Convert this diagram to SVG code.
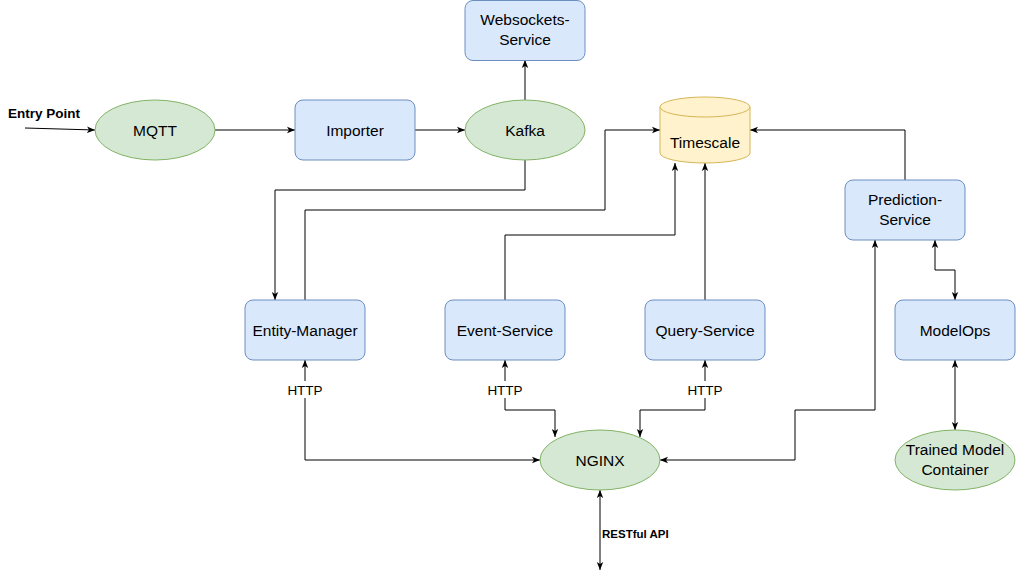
<svg xmlns="http://www.w3.org/2000/svg" width="1016" height="580" viewBox="0 0 1016 580">
<defs>
<marker id="a" viewBox="0 0 10 10" refX="10" refY="5" markerWidth="8" markerHeight="8" markerUnits="userSpaceOnUse" orient="auto-start-reverse">
<path d="M0,1 L10,5 L0,9 L2.5,5 Z" fill="#000"/>
</marker>
</defs>
<style>
.b{fill:#dae8fc;stroke:#6c8ebf;stroke-width:1}
.g{fill:#d5e8d4;stroke:#82b366;stroke-width:1}
.y{fill:#fff2cc;stroke:#d6b656;stroke-width:1}
.t{font-family:"Liberation Sans",Arial,sans-serif;font-size:15.5px;fill:#000;text-anchor:middle}
.s{font-family:"Liberation Sans",Arial,sans-serif;font-size:13.5px;fill:#000;text-anchor:middle}
.bold{font-family:"Liberation Sans",Arial,sans-serif;font-size:13.5px;font-weight:bold;fill:#000}
.c{fill:none;stroke:#000;stroke-width:1}
.e{marker-end:url(#a)}
.d{marker-start:url(#a);marker-end:url(#a)}
</style>
<rect width="1016" height="580" fill="#fff"/>
<g id="connectors">
<path class="c e" d="M25,128 L95,130"/>
<path class="c e" d="M215,130 L295,130"/>
<path class="c e" d="M415,130 L465,130"/>
<path class="c e" d="M525,100 L525,60"/>
<path class="c e" d="M525,160 L525,190 L275,190 L275,300"/>
<path class="c e" d="M305,300 L305,210 L605,210 L605,130 L660,130"/>
<path class="c e" d="M505,300 L505,235 L675,235 L675,163"/>
<path class="c e" d="M705,300 L705,163"/>
<path class="c e" d="M905,180 L905,130 L750,130"/>
<path class="c d" d="M935,240 L935,270 L955,270 L955,300"/>
<path class="c d" d="M955,360 L955,430"/>
<path class="c d" d="M305,360 L305,460 L540,460"/>
<path class="c d" d="M505,360 L505,410 L555,410 L555,437"/>
<path class="c d" d="M705,360 L705,410 L640,410 L640,437"/>
<path class="c d" d="M875,240 L875,410 L795,410 L795,460 L660,460"/>
<path class="c d" d="M600,490 L600,570"/>
<rect x="285" y="381" width="40" height="17" fill="#fff"/>
<rect x="485" y="381" width="40" height="17" fill="#fff"/>
<rect x="685" y="381" width="40" height="17" fill="#fff"/>
<text class="s" x="305" y="394.5">HTTP</text>
<text class="s" x="505" y="394.5">HTTP</text>
<text class="s" x="705" y="394.5">HTTP</text>
<text class="bold" x="602" y="538" style="font-size:11.5px">RESTful API</text>
<text class="bold" x="8" y="118">Entry Point</text>
</g>
<g id="mqtt"><ellipse class="g" cx="155" cy="130" rx="60" ry="30"/><text class="t" x="155" y="135.5">MQTT</text></g>
<g id="importer"><rect class="b" x="295" y="100" width="120" height="60" rx="8"/><text class="t" x="355" y="135.5">Importer</text></g>
<g id="kafka"><ellipse class="g" cx="525" cy="130" rx="60" ry="30"/><text class="t" x="525" y="135.5">Kafka</text></g>
<g id="websockets"><rect class="b" x="465" y="0.5" width="120" height="60" rx="8"/><text class="t" x="525" y="25">Websockets-</text><text class="t" x="525" y="45">Service</text></g>
<g id="timescale">
<path class="y" d="M660,107 A45,10 0 0 1 750,107 L750,153 A45,10 0 0 1 660,153 Z"/>
<path class="y" d="M660,107 A45,10 0 0 0 750,107" fill="none"/>
<text class="t" x="705" y="147.5">Timescale</text>
</g>
<g id="prediction"><rect class="b" x="845" y="180" width="120" height="60" rx="8"/><text class="t" x="905" y="205">Prediction-</text><text class="t" x="905" y="225">Service</text></g>
<g id="entity-manager"><rect class="b" x="245" y="300" width="120" height="60" rx="8"/><text class="t" x="305" y="335.5">Entity-Manager</text></g>
<g id="event-service"><rect class="b" x="445" y="300" width="120" height="60" rx="8"/><text class="t" x="505" y="335.5">Event-Service</text></g>
<g id="query-service"><rect class="b" x="645" y="300" width="120" height="60" rx="8"/><text class="t" x="705" y="335.5">Query-Service</text></g>
<g id="modelops"><rect class="b" x="895" y="300" width="120" height="60" rx="8"/><text class="t" x="955" y="335.5">ModelOps</text></g>
<g id="trained-model"><ellipse class="g" cx="955" cy="460" rx="60" ry="30"/><text class="t" x="955" y="455">Trained Model</text><text class="t" x="955" y="475">Container</text></g>
<g id="nginx"><ellipse class="g" cx="600" cy="460" rx="60" ry="30"/><text class="t" x="600" y="465.5">NGINX</text></g>
</svg>
